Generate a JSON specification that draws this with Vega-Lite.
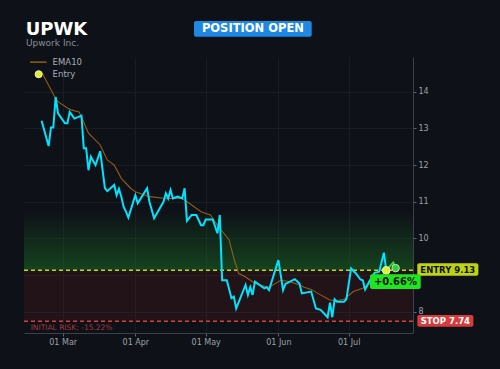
{
"$schema": "https://vega.github.io/schema/vega-lite/v6.json",
"width": 389, "height": 276,
"autosize": {"type": "none"},
"padding": {"left": 24, "top": 57, "right": 87, "bottom": 36},
"background": "#0e1117",
"datasets": {
"price": [
{"date":"2024-02-21","v":13.21},{"date":"2024-02-24","v":12.52},{"date":"2024-02-25","v":13.03},{"date":"2024-02-26","v":13.03},{"date":"2024-02-27","v":13.86},{"date":"2024-02-28","v":13.41},{"date":"2024-03-02","v":13.14},{"date":"2024-03-03","v":13.14},{"date":"2024-03-04","v":13.45},{"date":"2024-03-06","v":13.27},{"date":"2024-03-09","v":13.35},{"date":"2024-03-10","v":12.46},{"date":"2024-03-11","v":12.46},{"date":"2024-03-12","v":11.86},{"date":"2024-03-13","v":12.23},{"date":"2024-03-15","v":12.00},{"date":"2024-03-17","v":12.38},{"date":"2024-03-19","v":11.37},{"date":"2024-03-20","v":11.29},{"date":"2024-03-23","v":11.46},{"date":"2024-03-24","v":11.18},{"date":"2024-03-25","v":11.35},{"date":"2024-03-26","v":11.14},{"date":"2024-03-27","v":10.86},{"date":"2024-03-28","v":10.73},{"date":"2024-03-29","v":10.57},{"date":"2024-04-01","v":11.18},{"date":"2024-04-02","v":10.96},{"date":"2024-04-06","v":11.37},{"date":"2024-04-07","v":11.00},{"date":"2024-04-09","v":10.55},{"date":"2024-04-13","v":11.00},{"date":"2024-04-14","v":11.23},{"date":"2024-04-15","v":11.09},{"date":"2024-04-16","v":11.32},{"date":"2024-04-17","v":11.09},{"date":"2024-04-19","v":11.14},{"date":"2024-04-21","v":11.09},{"date":"2024-04-22","v":11.37},{"date":"2024-04-23","v":10.48},{"date":"2024-04-25","v":10.64},{"date":"2024-04-27","v":10.64},{"date":"2024-04-29","v":10.36},{"date":"2024-04-30","v":10.36},{"date":"2024-05-01","v":10.52},{"date":"2024-05-04","v":10.52},{"date":"2024-05-06","v":10.14},{"date":"2024-05-07","v":10.64},{"date":"2024-05-08","v":8.86},{"date":"2024-05-10","v":8.86},{"date":"2024-05-12","v":8.37},{"date":"2024-05-13","v":8.41},{"date":"2024-05-14","v":8.09},{"date":"2024-05-16","v":8.41},{"date":"2024-05-18","v":8.73},{"date":"2024-05-19","v":8.46},{"date":"2024-05-20","v":8.67},{"date":"2024-05-21","v":8.46},{"date":"2024-05-22","v":8.82},{"date":"2024-05-26","v":8.64},{"date":"2024-05-27","v":8.67},{"date":"2024-05-28","v":8.59},{"date":"2024-06-01","v":9.41},{"date":"2024-06-03","v":8.59},{"date":"2024-06-04","v":8.76},{"date":"2024-06-08","v":8.89},{"date":"2024-06-10","v":8.77},{"date":"2024-06-11","v":8.50},{"date":"2024-06-15","v":8.55},{"date":"2024-06-17","v":8.09},{"date":"2024-06-19","v":8.05},{"date":"2024-06-22","v":7.85},{"date":"2024-06-23","v":8.25},{"date":"2024-06-24","v":7.85},{"date":"2024-06-25","v":8.34},{"date":"2024-06-26","v":8.27},{"date":"2024-06-29","v":8.27},{"date":"2024-06-30","v":8.34},{"date":"2024-07-02","v":9.18},{"date":"2024-07-04","v":9.05},{"date":"2024-07-06","v":8.88},{"date":"2024-07-07","v":8.86},{"date":"2024-07-08","v":8.61},{"date":"2024-07-10","v":8.85},{"date":"2024-07-12","v":9.06},{"date":"2024-07-14","v":9.09},{"date":"2024-07-16","v":9.61},{"date":"2024-07-17","v":9.13}
],
"post": [{"date":"2024-07-17","v":9.13},{"date":"2024-07-20","v":9.34},{"date":"2024-07-21","v":9.19}],
"ema": [
{"date":"2024-02-21","v":14.54},{"date":"2024-02-24","v":14.18},{"date":"2024-02-27","v":13.82},{"date":"2024-02-28","v":13.73},{"date":"2024-03-03","v":13.56},{"date":"2024-03-05","v":13.50},{"date":"2024-03-08","v":13.45},{"date":"2024-03-09","v":13.32},{"date":"2024-03-12","v":12.87},{"date":"2024-03-17","v":12.55},{"date":"2024-03-20","v":12.14},{"date":"2024-03-23","v":12.00},{"date":"2024-03-26","v":11.64},{"date":"2024-03-30","v":11.37},{"date":"2024-04-01","v":11.27},{"date":"2024-04-07","v":11.14},{"date":"2024-04-14","v":11.09},{"date":"2024-04-21","v":11.09},{"date":"2024-04-24","v":10.96},{"date":"2024-04-29","v":10.73},{"date":"2024-05-03","v":10.64},{"date":"2024-05-06","v":10.36},{"date":"2024-05-11","v":9.96},{"date":"2024-05-13","v":9.46},{"date":"2024-05-15","v":9.05},{"date":"2024-05-18","v":8.95},{"date":"2024-05-21","v":8.82},{"date":"2024-05-24","v":8.73},{"date":"2024-05-28","v":8.67},{"date":"2024-05-31","v":8.78},{"date":"2024-06-02","v":8.86},{"date":"2024-06-06","v":8.82},{"date":"2024-06-10","v":8.73},{"date":"2024-06-12","v":8.67},{"date":"2024-06-15","v":8.61},{"date":"2024-06-19","v":8.46},{"date":"2024-06-23","v":8.32},{"date":"2024-06-26","v":8.30},{"date":"2024-06-29","v":8.34},{"date":"2024-07-03","v":8.55},{"date":"2024-07-07","v":8.64},{"date":"2024-07-10","v":8.77},{"date":"2024-07-14","v":8.92},{"date":"2024-07-17","v":9.09}
],
"entry": [{"date":"2024-07-17","v":9.13}],
"current": [{"date":"2024-07-21","v":9.19}],
"zones": [{"zone":"risk","lo":7.74,"hi":9.13},{"zone":"reward","lo":9.13,"hi":10.75}],
"levels": [{"level":"ENTRY","v":9.13},{"level":"STOP","v":7.74}],
"one": [{}]
},
"layer": [
{"data": {"name": "zones"}, "transform": [{"filter": "datum.zone == 'risk'"}],
 "mark": {"type": "rect", "color": "#8c1e28", "opacity": 0.16},
 "encoding": {
  "x": {"datum": {"year":2024,"month":2,"date":13,"hours":12,"utc":true}, "type": "temporal", "title": null,
        "scale": {"type": "utc", "domain": [{"year":2024,"month":2,"date":13,"hours":12,"utc":true},{"year":2024,"month":7,"date":28,"hours":10,"utc":true}]},
        "axis": {"title": null, "grid": true, "tickSize": 3, "labelPadding": 2, "labelExpr": "utcFormat(datum.value, '%d %b')",
                 "values": [{"year":2024,"month":3,"date":1,"utc":true},{"year":2024,"month":4,"date":1,"utc":true},{"year":2024,"month":5,"date":1,"utc":true},{"year":2024,"month":6,"date":1,"utc":true},{"year":2024,"month":7,"date":1,"utc":true}]}},
  "x2": {"datum": {"year":2024,"month":7,"date":28,"hours":10,"utc":true}},
  "y": {"field": "lo", "type": "quantitative", "title": null,
        "scale": {"domain": [7.42, 14.95], "nice": false, "zero": false},
        "axis": {"title": null, "orient": "right", "grid": true, "values": [8,9,10,11,12,13,14], "labelExpr": "datum.value == 9 ? '' : datum.label", "tickSize": 3, "labelPadding": 2}},
  "y2": {"field": "hi"}
 }},
{"data": {"name": "zones"}, "transform": [{"filter": "datum.zone == 'reward'"}],
 "mark": {"type": "rect", "color": {"gradient": "linear", "x1": 0, "y1": 1, "x2": 0, "y2": 0, "stops": [{"offset": 0, "color": "rgba(28,115,40,0.5)"}, {"offset": 1, "color": "rgba(28,115,40,0)"}]}},
 "encoding": {
  "x": {"datum": {"year":2024,"month":2,"date":13,"hours":12,"utc":true}, "type": "temporal", "title": null},
  "x2": {"datum": {"year":2024,"month":7,"date":28,"hours":10,"utc":true}},
  "y": {"field": "lo", "type": "quantitative", "title": null},
  "y2": {"field": "hi"}
 }},
{"data": {"name": "levels"}, "transform": [{"filter": "datum.level == 'ENTRY'"}],
 "mark": {"type": "rule", "color": "#c2d41e", "strokeDash": [4, 3], "strokeWidth": 1.5},
 "encoding": {"y": {"field": "v", "type": "quantitative", "title": null}}},
{"data": {"name": "levels"}, "transform": [{"filter": "datum.level == 'STOP'"}],
 "mark": {"type": "rule", "color": "#d8403f", "strokeDash": [4, 3], "strokeWidth": 1.5},
 "encoding": {"y": {"field": "v", "type": "quantitative", "title": null}}},
{"data": {"name": "ema"},
 "mark": {"type": "line", "color": "#8f5e18", "strokeWidth": 1.1},
 "encoding": {"x": {"field": "date", "type": "temporal", "title": null}, "y": {"field": "v", "type": "quantitative", "title": null}}},
{"data": {"name": "price"},
 "mark": {"type": "line", "color": "#00e5ff", "strokeWidth": 2},
 "encoding": {"x": {"field": "date", "type": "temporal", "title": null}, "y": {"field": "v", "type": "quantitative", "title": null}}},
{"data": {"name": "post"},
 "mark": {"type": "line", "color": "#2ee02e", "strokeWidth": 2},
 "encoding": {"x": {"field": "date", "type": "temporal", "title": null}, "y": {"field": "v", "type": "quantitative", "title": null}}},
{"data": {"name": "entry"},
 "mark": {"type": "point", "shape": "circle", "filled": true, "fill": "#dcf032", "stroke": "#eef2c0", "strokeWidth": 1, "size": 60, "opacity": 1},
 "encoding": {"x": {"field": "date", "type": "temporal", "title": null}, "y": {"field": "v", "type": "quantitative", "title": null}}},
{"data": {"name": "current"},
 "mark": {"type": "point", "shape": "circle", "filled": true, "fill": "#2bd42b", "stroke": "#d8d8d8", "strokeWidth": 1, "size": 55, "opacity": 1},
 "encoding": {"x": {"field": "date", "type": "temporal", "title": null}, "y": {"field": "v", "type": "quantitative", "title": null}}},
{"data": {"name": "one"},
 "mark": {"type": "text", "text": "UPWK", "font": "DejaVu Sans", "fontWeight": "bold", "fontSize": 18, "color": "#ffffff", "align": "left", "baseline": "alphabetic"},
 "encoding": {
  "x": {"datum": {"year":2024,"month":2,"date":14,"hours":5,"utc":true}, "type": "temporal"},
  "y": {"datum": 15.54, "type": "quantitative"}}},
{"data": {"name": "one"},
 "mark": {"type": "text", "text": "Upwork Inc.", "font": "DejaVu Sans", "fontSize": 9, "color": "#8a8f98", "align": "left", "baseline": "alphabetic"},
 "encoding": {
  "x": {"datum": {"year":2024,"month":2,"date":14,"hours":8,"utc":true}, "type": "temporal"},
  "y": {"datum": 15.24, "type": "quantitative"}}},
{"data": {"name": "one"},
 "mark": {"type": "rect", "color": "#1e88e5", "cornerRadius": 2},
 "encoding": {
  "x": {"datum": {"year":2024,"month":4,"date":26,"utc":true}, "type": "temporal"},
  "x2": {"datum": {"year":2024,"month":6,"date":15,"hours":5,"utc":true}},
  "y": {"datum": 15.93, "type": "quantitative"}, "y2": {"datum": 15.50}}},
{"data": {"name": "one"},
 "mark": {"type": "text", "text": "POSITION OPEN", "font": "DejaVu Sans", "fontWeight": "bold", "fontSize": 11.5, "color": "#ffffff", "align": "center", "baseline": "middle"},
 "encoding": {
  "x": {"datum": {"year":2024,"month":5,"date":21,"hours":3,"utc":true}, "type": "temporal"},
  "y": {"datum": 15.71, "type": "quantitative"}}},
{"data": {"name": "one"},
 "mark": {"type": "rect", "color": "#bfd316", "cornerRadius": 2},
 "encoding": {
  "x": {"datum": {"year":2024,"month":7,"date":30,"hours":6,"utc":true}, "type": "temporal"},
  "x2": {"datum": {"year":2024,"month":8,"date":25,"hours":7,"utc":true}},
  "y": {"datum": 9.32, "type": "quantitative"}, "y2": {"datum": 8.98}}},
{"data": {"name": "levels"}, "transform": [{"filter": "datum.level == 'ENTRY'"}],
 "mark": {"type": "text", "font": "DejaVu Sans", "fontWeight": "bold", "fontSize": 8.5, "color": "#111111", "align": "center", "baseline": "middle"},
 "encoding": {
  "x": {"datum": {"year":2024,"month":8,"date":12,"hours":6,"utc":true}, "type": "temporal"},
  "y": {"datum": 9.15, "type": "quantitative"},
  "text": {"value": "ENTRY 9.13"}}},
{"data": {"name": "one"},
 "mark": {"type": "rect", "color": "#d63c3c", "cornerRadius": 2},
 "encoding": {
  "x": {"datum": {"year":2024,"month":7,"date":30,"hours":6,"utc":true}, "type": "temporal"},
  "x2": {"datum": {"year":2024,"month":8,"date":23,"hours":4,"utc":true}},
  "y": {"datum": 7.91, "type": "quantitative"}, "y2": {"datum": 7.59}}},
{"data": {"name": "levels"}, "transform": [{"filter": "datum.level == 'STOP'"}],
 "mark": {"type": "text", "font": "DejaVu Sans", "fontWeight": "bold", "fontSize": 8.5, "color": "#ffffff", "align": "center", "baseline": "middle"},
 "encoding": {
  "x": {"datum": {"year":2024,"month":8,"date":11,"hours":5,"utc":true}, "type": "temporal"},
  "y": {"datum": 7.75, "type": "quantitative"},
  "text": {"value": "STOP 7.74"}}},
{"data": {"name": "one"},
 "mark": {"type": "rect", "color": "#1ee61e", "cornerRadius": 2},
 "encoding": {
  "x": {"datum": {"year":2024,"month":7,"date":10,"hours":2,"utc":true}, "type": "temporal"},
  "x2": {"datum": {"year":2024,"month":7,"date":31,"hours":17,"utc":true}},
  "y": {"datum": 9.02, "type": "quantitative"}, "y2": {"datum": 8.62}}},
{"data": {"name": "one"},
 "mark": {"type": "text", "text": "+0.66%", "font": "DejaVu Sans", "fontWeight": "bold", "fontSize": 10, "color": "#111111", "align": "center", "baseline": "middle"},
 "encoding": {
  "x": {"datum": {"year":2024,"month":7,"date":20,"hours":22,"utc":true}, "type": "temporal"},
  "y": {"datum": 8.82, "type": "quantitative"}}},
{"data": {"name": "one"},
 "mark": {"type": "text", "text": "INITIAL RISK: -15.22%", "font": "DejaVu Sans", "fontSize": 7.5, "color": "#a8383a", "align": "left", "baseline": "alphabetic"},
 "encoding": {
  "x": {"datum": {"year":2024,"month":2,"date":16,"hours":8,"utc":true}, "type": "temporal"},
  "y": {"datum": 7.51, "type": "quantitative"}}},
{"data": {"name": "one"},
 "mark": {"type": "rule", "color": "#8f5e18", "strokeWidth": 1.5},
 "encoding": {
  "x": {"datum": {"year":2024,"month":2,"date":16,"hours":1,"utc":true}, "type": "temporal"},
  "x2": {"datum": {"year":2024,"month":2,"date":23,"hours":4,"utc":true}},
  "y": {"datum": 14.81, "type": "quantitative"}}},
{"data": {"name": "one"},
 "mark": {"type": "point", "shape": "circle", "filled": true, "fill": "#dcf032", "stroke": "#eef2c0", "strokeWidth": 1, "size": 50, "opacity": 1},
 "encoding": {
  "x": {"datum": {"year":2024,"month":2,"date":19,"hours":18,"utc":true}, "type": "temporal"},
  "y": {"datum": 14.48, "type": "quantitative"}}},
{"data": {"name": "one"},
 "mark": {"type": "text", "text": "EMA10", "font": "DejaVu Sans", "fontSize": 8.5, "color": "#a8adb5", "align": "left", "baseline": "middle"},
 "encoding": {
  "x": {"datum": {"year":2024,"month":2,"date":25,"hours":17,"utc":true}, "type": "temporal"},
  "y": {"datum": 14.81, "type": "quantitative"}}},
{"data": {"name": "one"},
 "mark": {"type": "text", "text": "Entry", "font": "DejaVu Sans", "fontSize": 8.5, "color": "#a8adb5", "align": "left", "baseline": "middle"},
 "encoding": {
  "x": {"datum": {"year":2024,"month":2,"date":25,"hours":17,"utc":true}, "type": "temporal"},
  "y": {"datum": 14.48, "type": "quantitative"}}}
],
"config": {
 "view": {"stroke": null},
 "axis": {"domainColor": "#3b404a", "gridColor": "#181c23", "tickColor": "#5f646d", "labelColor": "#9da3ab", "labelFont": "DejaVu Sans", "labelFontSize": 8}
}
}
